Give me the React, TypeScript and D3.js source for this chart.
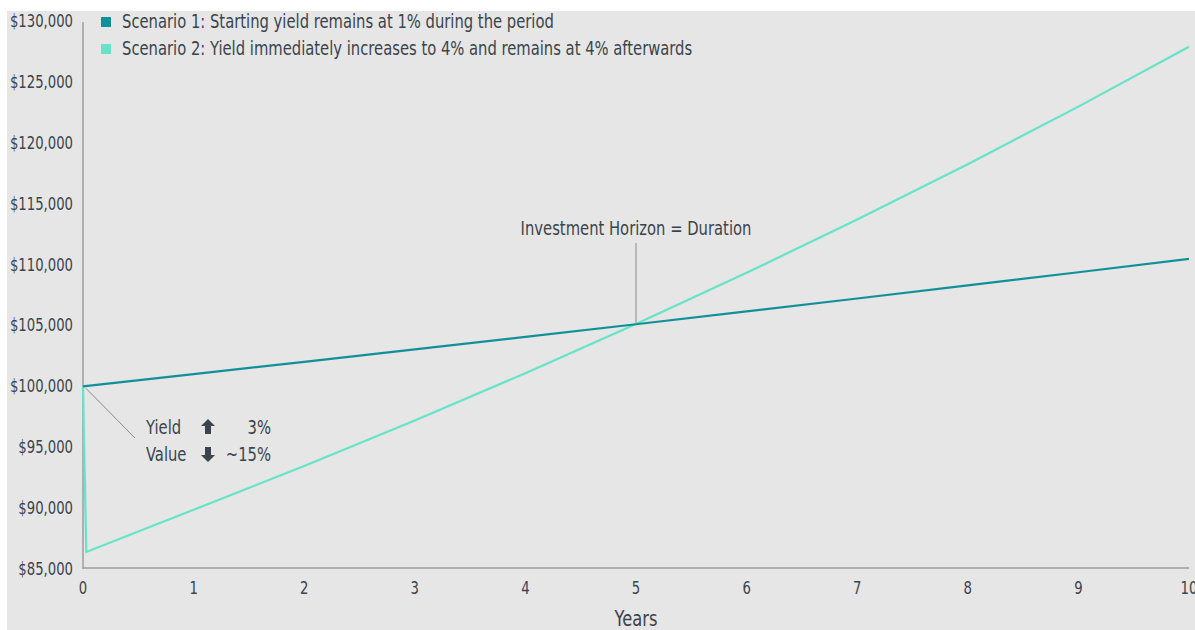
import React from "react";
import * as d3 from "d3";

const yearsS1: number[] = [0, 1, 2, 3, 4, 5, 6, 7, 8, 9, 10];
const valuesS1: number[] = [100000, 101000, 102010, 103030, 104060, 105100, 106150, 107210, 108290, 109370, 110460];
const yearsS2: number[] = [0, 0.03, 1, 2, 3, 4, 5, 6, 7, 8, 9, 10];
const valuesS2: number[] = [100000, 86400, 89860, 93450, 97190, 101080, 105120, 109320, 113700, 118240, 122970, 127890];
const xTicks: number[] = [0, 1, 2, 3, 4, 5, 6, 7, 8, 9, 10];
const yTicks: number[] = [85000, 90000, 95000, 100000, 105000, 110000, 115000, 120000, 125000, 130000];
const legendLabels: string[] = [
  "Scenario 1: Starting yield remains at 1% during the period",
  "Scenario 2: Yield immediately increases to 4% and remains at 4% afterwards",
];
const seriesColors: string[] = ["#12909a", "#66e3c9"];

const W = 1195;
const H = 630;
const FONT = "'DejaVu Sans Condensed', 'DejaVu Sans', sans-serif";
const TXT = "#3b444c";
const SX = 0.865;

type CTProps = {
  x: number;
  y: number;
  size: number;
  anchor?: "start" | "middle" | "end";
  children: React.ReactNode;
};

function CText({ x, y, size, anchor = "start", children }: CTProps) {
  return (
    <text
      transform={`translate(${x},${y}) scale(${SX},1)`}
      dy="0.35em"
      textAnchor={anchor}
      fontSize={size}
      fill={TXT}
    >
      {children}
    </text>
  );
}

export default function App() {
  const x = d3.scaleLinear().domain([0, 10]).range([83, 1189]);
  const y = d3.scaleLinear().domain([85000, 130000]).range([569, 21]);
  const line = d3
    .line<[number, number]>()
    .x((d) => x(d[0]))
    .y((d) => y(d[1]));
  const s1 = yearsS1.map((t, i) => [t, valuesS1[i]] as [number, number]);
  const s2 = yearsS2.map((t, i) => [t, valuesS2[i]] as [number, number]);
  const fmt = d3.format("$,");

  const upArrow = (cx: number, cy: number) =>
    `M${cx},${cy - 8} L${cx + 7},${cy - 1} L${cx + 3},${cy - 1} L${cx + 3},${cy + 7} L${cx - 3},${cy + 7} L${cx - 3},${cy - 1} L${cx - 7},${cy - 1} Z`;
  const downArrow = (cx: number, cy: number) =>
    `M${cx},${cy + 8} L${cx + 7},${cy + 1} L${cx + 3},${cy + 1} L${cx + 3},${cy - 7} L${cx - 3},${cy - 7} L${cx - 3},${cy + 1} L${cx - 7},${cy + 1} Z`;

  return (
    <svg
      width={W}
      height={H}
      style={{ position: "absolute", left: 0, top: 0, background: "#ffffff" }}
      fontFamily={FONT}
    >
      <rect x={7} y={11} width={W - 7} height={H - 11} fill="#e6e6e6" />

      {/* axes */}
      <line x1={x(0)} x2={x(0)} y1={y(130000) + 1} y2={y(85000)} stroke="#9c9c9c" strokeWidth={1.5} />
      <line x1={x(0)} x2={x(10)} y1={y(85000) - 1} y2={y(85000) - 1} stroke="#9c9c9c" strokeWidth={1.5} />

      {yTicks.map((v) => (
        <CText key={v} x={73} y={y(v)} size={17} anchor="end">
          {fmt(v)}
        </CText>
      ))}
      {xTicks.map((v) => (
        <CText key={v} x={x(v)} y={588} size={17} anchor="middle">
          {v}
        </CText>
      ))}
      <CText x={x(5)} y={619} size={21} anchor="middle">
        Years
      </CText>

      {/* legend */}
      {legendLabels.map((l, i) => (
        <g key={l}>
          <rect x={101} y={17 + i * 27} width={10} height={10} fill={seriesColors[i]} />
          <CText x={122} y={21 + i * 27} size={19}>
            {l}
          </CText>
        </g>
      ))}

      {/* lines */}
      <path d={line(s2) || ""} fill="none" stroke={seriesColors[1]} strokeWidth={2.2} />
      <path d={line(s1) || ""} fill="none" stroke={seriesColors[0]} strokeWidth={2.2} />

      {/* annotations */}
      <line x1={x(0) + 3} y1={y(100000) + 2} x2={135} y2={438} stroke="#8a8a8a" strokeWidth={1} />
      <CText x={146} y={427} size={19}>Yield</CText>
      <path d={upArrow(208, 427)} fill={TXT} />
      <CText x={271} y={427} size={19} anchor="end">3%</CText>
      <CText x={146} y={454} size={19}>Value</CText>
      <path d={downArrow(208, 454)} fill={TXT} />
      <CText x={271} y={454} size={19} anchor="end">~15%</CText>

      <CText x={x(5)} y={228} size={19} anchor="middle">
        Investment Horizon = Duration
      </CText>
      <line x1={x(5)} x2={x(5)} y1={243} y2={y(105100)} stroke="#8a8a8a" strokeWidth={1} />
    </svg>
  );
}
